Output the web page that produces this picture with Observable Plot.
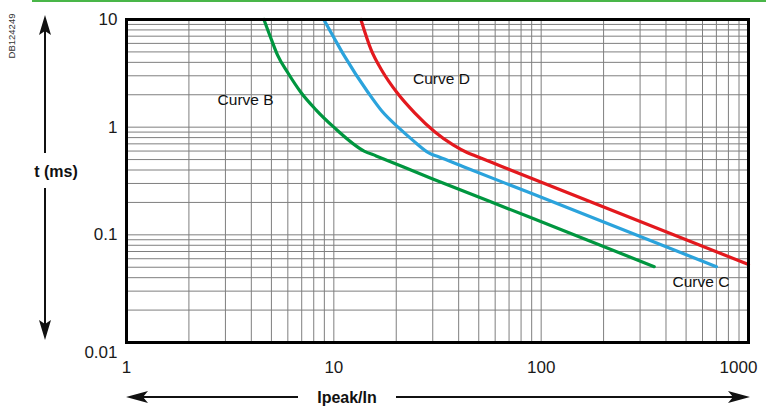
<!DOCTYPE html>
<html>
<head>
<meta charset="utf-8">
<script src="https://cdn.jsdelivr.net/npm/d3@7"></script>
<script src="https://cdn.jsdelivr.net/npm/@observablehq/plot@0.6"></script>
<style>
  html, body { margin: 0; padding: 0; background: #fff; }
  #chart svg { display: block; }
</style>
</head>
<body>
<div id="chart"></div>
<script>
// ---- data (x = Ipeak/In, t in ms) ----
const curveB_x = [4.6, 5.0, 5.36, 6.0, 6.93, 8.2, 10, 14, 16, 30, 86.5, 351];
const curveB_t = [10, 6.5, 4.64, 3.2, 2.11, 1.45, 1.0, 0.6, 0.541, 0.33, 0.148, 0.0506];

const curveC_x = [8.94, 10, 11.2, 14.6, 17, 20.4, 24, 29, 32, 42.5, 89.5, 700];
const curveC_t = [10, 6.8, 4.64, 2.11, 1.42, 1.0, 0.758, 0.57, 0.53, 0.426, 0.243, 0.0506];

const curveD_x = [13.5, 15.1, 17.25, 20.15, 24.6, 30.75, 37.6, 43.9, 48, 64.1, 1000];
const curveD_t = [10, 5.27, 3.24, 2.10, 1.353, 0.903, 0.684, 0.581, 0.542, 0.434, 0.053];

const labelNames = ["Curve B", "Curve D", "Curve C"];
const labelX = [2.75, 24.1, 430];
const labelT = [1.78, 2.78, 0.0367];

const xTicks = [1, 10, 100, 1000];
const yTicks = [0.01, 0.1, 1, 10];
const gridMultipliers = [1, 2, 3, 4, 5, 6, 7, 8, 9];

const colors = {B: "#00963f", C: "#2ba3dc", D: "#e3191e"};

// ---- build tables ----
const toRows = (xs, ts) => xs.map((x, i) => ({x, t: ts[i]}));
const rowsB = toRows(curveB_x, curveB_t);
const rowsC = toRows(curveC_x, curveC_t);
const rowsD = toRows(curveD_x, curveD_t);
const labels = labelNames.map((name, i) => ({name, x: labelX[i], t: labelT[i]}));

const xGrid = [];
[1, 10, 100].forEach(d => gridMultipliers.forEach(m => xGrid.push(d * m)));
xGrid.push(1000);
const yGrid = [];
[0.01, 0.1, 1].forEach(d => gridMultipliers.forEach(m => yGrid.push(+(d * m).toPrecision(3))));
yGrid.push(10);

const chart = Plot.plot({
  width: 766,
  height: 408,
  marginLeft: 126,
  marginRight: 18,
  marginTop: 19,
  marginBottom: 66,
  style: {fontFamily: "'Liberation Sans', Arial, sans-serif", fontSize: "17px", color: "#1a1a1a", background: "#fff"},
  x: {type: "log", domain: [1, 1000], ticks: xTicks, tickFormat: d => String(d), tickSize: 0, tickPadding: 18, label: null},
  y: {type: "log", domain: [0.01, 10], ticks: yTicks, tickFormat: d => String(d), tickSize: 0, tickPadding: 9, label: null},
  marks: [
    Plot.ruleX(xGrid, {stroke: "#7f7f7f", strokeWidth: 1}),
    Plot.ruleY(yGrid, {stroke: "#7f7f7f", strokeWidth: 1}),
    Plot.line(rowsB, {x: "x", y: "t", stroke: colors.B, strokeWidth: 3.2, curve: "monotone-x"}),
    Plot.line(rowsC, {x: "x", y: "t", stroke: colors.C, strokeWidth: 3.2, curve: "monotone-x"}),
    Plot.line(rowsD, {x: "x", y: "t", stroke: colors.D, strokeWidth: 3.2, curve: "monotone-x"}),
    Plot.text(labels, {x: "x", y: "t", text: "name", textAnchor: "start", fontSize: 15.5, fill: "#111", className: "curve-label"}),
    Plot.frame({stroke: "#000", strokeWidth: 3})
  ]
});

document.getElementById("chart").appendChild(chart);

// ---- decorations: label boxes, arrows, axis titles ----
const svg = d3.select(chart);
const ns = "http://www.w3.org/2000/svg";

// white boxes behind curve labels
svg.selectAll("g.curve-label text").each(function () {
  const b = this.getBBox();
  const g = this.parentNode;
  const rect = document.createElementNS(ns, "rect");
  rect.setAttribute("x", b.x - 4);
  rect.setAttribute("y", b.y - 3);
  rect.setAttribute("width", b.width + 17);
  rect.setAttribute("height", b.height + 6);
  rect.setAttribute("fill", "#fff");
  g.insertBefore(rect, this);
});

// nudge end tick labels as in the reference
const xAxisTexts = svg.selectAll("g[aria-label='x-axis tick label'] text").nodes();
if (xAxisTexts.length) xAxisTexts[xAxisTexts.length - 1].setAttribute("dx", "-10");
const yAxisTexts = svg.selectAll("g[aria-label='y-axis tick label'] text").nodes();
yAxisTexts.forEach(n => { if (n.textContent === "0.01") n.setAttribute("dy", "0.6em"); });

const xr = chart.scale("x").range;

// top green rule
svg.append("line").attr("x1", 32).attr("x2", 766).attr("y1", 1).attr("y2", 1)
  .attr("stroke", "#49b648").attr("stroke-width", 2.2);

// vertical code label
svg.append("text").attr("transform", "translate(15,36) rotate(-90)")
  .attr("text-anchor", "middle").attr("font-size", 9.5).attr("fill", "#333")
  .attr("font-family", "'Liberation Sans', Arial, sans-serif").text("DB124249");

// vertical arrow
const ax = 45;
const yTop = 15, yBot = 340;
svg.append("line").attr("x1", ax).attr("x2", ax).attr("y1", yTop + 14).attr("y2", 153).attr("stroke", "#111").attr("stroke-width", 2);
svg.append("line").attr("x1", ax).attr("x2", ax).attr("y1", 188).attr("y2", yBot - 14).attr("stroke", "#111").attr("stroke-width", 2);
svg.append("path").attr("d", `M${ax},${yTop} L${ax - 6},${yTop + 20} L${ax},${yTop + 16} L${ax + 6},${yTop + 20} Z`).attr("fill", "#111");
svg.append("path").attr("d", `M${ax},${yBot} L${ax - 6},${yBot - 20} L${ax},${yBot - 16} L${ax + 6},${yBot - 20} Z`).attr("fill", "#111");
svg.append("text").attr("x", 56).attr("y", 171).attr("dy", "0.35em").attr("text-anchor", "middle")
  .attr("font-weight", "bold").attr("font-size", 16).attr("fill", "#111")
  .attr("font-family", "'Liberation Sans', Arial, sans-serif").text("t (ms)");

// horizontal arrow
const ay = 397;
const xL = xr[0], xR = xr[1] + 2;
svg.append("line").attr("x1", xL + 14).attr("x2", 298).attr("y1", ay).attr("y2", ay).attr("stroke", "#111").attr("stroke-width", 2);
svg.append("line").attr("x1", 396).attr("x2", xR - 14).attr("y1", ay).attr("y2", ay).attr("stroke", "#111").attr("stroke-width", 2);
svg.append("path").attr("d", `M${xL},${ay} L${xL + 22},${ay - 6} L${xL + 17},${ay} L${xL + 22},${ay + 6} Z`).attr("fill", "#111");
svg.append("path").attr("d", `M${xR},${ay} L${xR - 22},${ay - 6} L${xR - 17},${ay} L${xR - 22},${ay + 6} Z`).attr("fill", "#111");
svg.append("text").attr("x", 347).attr("y", ay).attr("dy", "0.35em").attr("text-anchor", "middle")
  .attr("font-weight", "bold").attr("font-size", 16).attr("fill", "#111")
  .attr("font-family", "'Liberation Sans', Arial, sans-serif").text("Ipeak/In");
</script>
</body>
</html>
